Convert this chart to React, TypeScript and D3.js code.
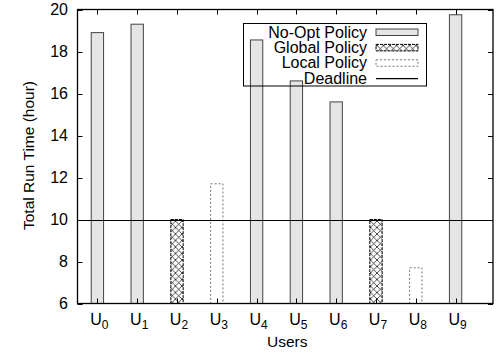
import React, { useEffect, useRef } from 'react';
import * as d3 from 'd3';

// chart data
const users = ['0', '1', '2', '3', '4', '5', '6', '7', '8', '9'];
const policies = ['noopt', 'noopt', 'global', 'local', 'noopt', 'noopt', 'noopt', 'global', 'local', 'noopt'];
const runTimes = [18.9, 19.3, 10.0, 11.7, 18.55, 16.6, 15.6, 10.0, 7.7, 19.75];
const yTicks = [6, 8, 10, 12, 14, 16, 18, 20];
const deadline = 10;
const legendLabels = ['No-Opt Policy', 'Global Policy', 'Local Policy', 'Deadline'];
const legendKinds = ['noopt', 'global', 'local', 'line'];

const FONT = '"Liberation Sans", Arial, Helvetica, sans-serif';

const App = () => {
  const svgRef = useRef<SVGSVGElement>(null);

  useEffect(() => {
    const svg = d3.select(svgRef.current);
    svg.selectAll('*').remove();

    const width = 497;
    const height = 354;
    const plot = { left: 77.5, right: 493, top: 9.5, bottom: 303.5 };

    svg.attr('width', width).attr('height', height).style('font-family', FONT);

    // crosshatch pattern for the "global" bars
    const defs = svg.append('defs');
    const pat = defs
      .append('pattern')
      .attr('id', 'xhatch')
      .attr('patternUnits', 'userSpaceOnUse')
      .attr('width', 6.5)
      .attr('height', 6.5);
    pat.append('rect').attr('width', 6.5).attr('height', 6.5).attr('fill', '#fff');
    pat.append('path').attr('d', 'M0,0L6.5,6.5M6.5,0L0,6.5').attr('stroke', '#000').attr('stroke-width', 0.7);

    const x = d3.scaleLinear().domain([-0.5, 9.94]).range([plot.left, plot.right]);
    const y = d3.scaleLinear().domain([6, 20]).range([plot.bottom, plot.top]);
    const barW = x(0.31) - x(0);

    const styleBar = (sel: any) =>
      sel
        .attr('fill', (d: any) => (d.kind === 'noopt' ? '#e5e5e5' : d.kind === 'global' ? 'url(#xhatch)' : '#fff'))
        .attr('stroke', (d: any) => (d.kind === 'local' ? '#777' : d.kind === 'global' ? '#000' : '#444'))
        .attr('stroke-width', 1)
        .attr('stroke-dasharray', (d: any) => (d.kind === 'local' ? '2,2' : d.kind === 'global' ? '3,1' : null));

    const data = users.map((u, i) => ({ u, kind: policies[i], v: runTimes[i], i }));

    // bars
    styleBar(
      svg
        .append('g')
        .selectAll('rect')
        .data(data)
        .enter()
        .append('rect')
        .attr('x', (d) => x(d.i) - barW / 2)
        .attr('y', (d) => y(d.v))
        .attr('width', barW)
        .attr('height', (d) => y(6) - y(d.v))
    );

    // deadline line
    svg
      .append('line')
      .attr('x1', plot.left)
      .attr('x2', plot.right)
      .attr('y1', Math.round(y(deadline)) + 0.5)
      .attr('y2', Math.round(y(deadline)) + 0.5)
      .attr('stroke', '#000')
      .attr('stroke-width', 1.2);

    // axes: inward ticks, mirrored on top and right
    const tickLen = 5;
    const ax = svg.append('g').attr('stroke', '#000').attr('stroke-width', 1);
    yTicks.forEach((t) => {
      const yy = Math.round(y(t)) + 0.5;
      ax.append('line').attr('x1', plot.left).attr('x2', plot.left + tickLen).attr('y1', yy).attr('y2', yy);
      ax.append('line').attr('x1', plot.right).attr('x2', plot.right - tickLen).attr('y1', yy).attr('y2', yy);
    });
    users.forEach((_, i) => {
      const xx = Math.round(x(i)) + 0.5;
      ax.append('line').attr('x1', xx).attr('x2', xx).attr('y1', plot.bottom).attr('y2', plot.bottom - tickLen);
      ax.append('line').attr('x1', xx).attr('x2', xx).attr('y1', plot.top).attr('y2', plot.top + tickLen);
    });
    svg
      .append('rect')
      .attr('x', plot.left)
      .attr('y', plot.top)
      .attr('width', plot.right - plot.left)
      .attr('height', plot.bottom - plot.top)
      .attr('fill', 'none')
      .attr('stroke', '#000')
      .attr('stroke-width', 1.3);

    // y tick labels
    svg
      .append('g')
      .selectAll('text')
      .data(yTicks)
      .enter()
      .append('text')
      .attr('x', 68)
      .attr('y', (d) => y(d) + 5.5)
      .attr('text-anchor', 'end')
      .style('font-size', '16px')
      .text((d) => d);

    // x tick labels U with subscript
    const xl = svg
      .append('g')
      .selectAll('text')
      .data(users)
      .enter()
      .append('text')
      .attr('x', (_, i) => x(i) + 2)
      .attr('y', 325)
      .attr('text-anchor', 'middle')
      .style('font-size', '16px');
    xl.append('tspan').text('U');
    xl.append('tspan').attr('dy', 4).style('font-size', '12px').text((d) => d);

    // axis titles
    svg
      .append('text')
      .attr('x', (plot.left + plot.right) / 2 + 2)
      .attr('y', 347)
      .attr('text-anchor', 'middle')
      .style('font-size', '15.5px')
      .text('Users');
    svg
      .append('text')
      .attr('transform', `translate(34, ${(plot.top + plot.bottom) / 2 - 1}) rotate(-90)`)
      .attr('text-anchor', 'middle')
      .style('font-size', '15.5px')
      .text('Total Run Time (hour)');

    // legend
    const lg = svg.append('g');
    lg.append('rect')
      .attr('x', 243.5)
      .attr('y', 23.5)
      .attr('width', 183)
      .attr('height', 62.5)
      .attr('fill', 'none')
      .attr('stroke', '#000')
      .attr('stroke-width', 1);
    legendLabels.forEach((label, i) => {
      const cy = 32 + i * 15.4;
      lg.append('text')
        .attr('x', 367)
        .attr('y', cy + 5.5)
        .attr('text-anchor', 'end')
        .style('font-size', '16px')
        .text(label);
      const kind = legendKinds[i];
      if (kind === 'line') {
        lg.append('line')
          .attr('x1', 376)
          .attr('x2', 418)
          .attr('y1', cy + 0.5)
          .attr('y2', cy + 0.5)
          .attr('stroke', '#000')
          .attr('stroke-width', 1.2);
      } else {
        styleBar(
          lg
            .append('rect')
            .datum({ kind })
            .attr('x', 376)
            .attr('y', cy - 3)
            .attr('width', 42)
            .attr('height', 6.5)
        );
      }
    });
  }, []);

  return <svg ref={svgRef} style={{ position: 'absolute', left: 0, top: 0 }}></svg>;
};

export default App;
